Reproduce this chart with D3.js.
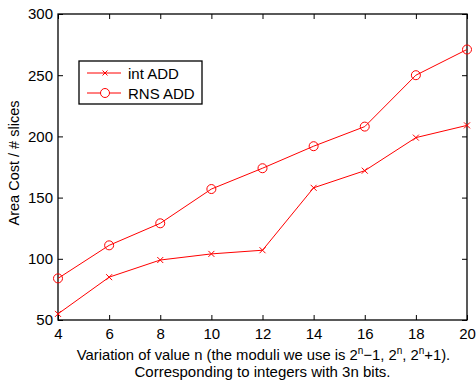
<!DOCTYPE html>
<html>
<head>
<meta charset="utf-8">
<script src="https://cdn.jsdelivr.net/npm/d3@7"></script>
<style>
  body { margin: 0; background: #fff; }
  svg { font-family: "Liberation Sans", Arial, sans-serif; }
</style>
</head>
<body>
<div id="chart"></div>
<script>
// values
const nValues = [4, 6, 8, 10, 12, 14, 16, 18, 20];
const intAdd = [55, 85, 99, 104, 107, 158, 172, 199, 209];
const rnsAdd = [84, 111, 129, 157, 174, 192, 208, 250, 271];
const yTicks = [50, 100, 150, 200, 250, 300];
const seriesNames = ["int ADD", "RNS ADD"];

let width = 476,
    height = 385,
    margin = {top: 14, right: 9, bottom: 65, left: 58},
    tickLen = 5,
    red = "#ff0000";

let svg = d3.select("#chart").append("svg")
    .attr("width", width)
    .attr("height", height);

let x = d3.scaleLinear()
    .domain([4, 20])
    .range([margin.left, width - margin.right]);

let y = d3.scaleLinear()
    .domain([50, 300])
    .range([height - margin.bottom, margin.top]);

// Axes (matlab style: ticks inward on all sides)
// ---------------------------------------------------------

let plotH = y(50) - y(300),
    plotW = x(20) - x(4);

svg.append("g")
    .attr("transform", `translate(0,${y(50)})`)
    .call(d3.axisBottom(x).tickValues(nValues).tickSize(-tickLen).tickPadding(8).tickSizeOuter(0))
    .call(g => g.select(".domain").remove());

svg.append("g")
    .attr("transform", `translate(0,${y(300)})`)
    .call(d3.axisTop(x).tickValues(nValues).tickSize(-tickLen).tickFormat("").tickSizeOuter(0))
    .call(g => g.select(".domain").remove());

svg.append("g")
    .attr("transform", `translate(${x(4)},0)`)
    .call(d3.axisLeft(y).tickValues(yTicks).tickSize(-tickLen).tickPadding(5).tickSizeOuter(0))
    .call(g => g.select(".domain").remove());

svg.append("g")
    .attr("transform", `translate(${x(20)},0)`)
    .call(d3.axisRight(y).tickValues(yTicks).tickSize(-tickLen).tickFormat("").tickSizeOuter(0))
    .call(g => g.select(".domain").remove());

svg.selectAll(".tick line").attr("stroke", "#000").attr("stroke-width", 1);
svg.selectAll(".tick text").attr("font-size", 15).attr("fill", "#000");

svg.append("rect")
    .attr("x", x(4))
    .attr("y", y(300))
    .attr("width", plotW)
    .attr("height", plotH)
    .attr("fill", "none")
    .attr("stroke", "#000")
    .attr("stroke-width", 1.3);

// Lines
// ---------------------------------------------------------

let lineGen = d3.line()
    .x((d, i) => x(nValues[i]))
    .y(d => y(d));

svg.append("path")
    .datum(intAdd)
    .attr("d", lineGen)
    .attr("fill", "none")
    .attr("stroke", red)
    .attr("stroke-width", 1);

svg.append("path")
    .datum(rnsAdd)
    .attr("d", lineGen)
    .attr("fill", "none")
    .attr("stroke", red)
    .attr("stroke-width", 1);

function crossPath(cx, cy, s) {
    return `M${cx - s},${cy - s}L${cx + s},${cy + s}M${cx - s},${cy + s}L${cx + s},${cy - s}`;
}

svg.selectAll(".crossMark")
    .data(intAdd)
    .enter()
    .append("path")
        .attr("class", "crossMark")
        .attr("d", (d, i) => crossPath(x(nValues[i]), y(d), 3))
        .attr("stroke", red)
        .attr("stroke-width", 1);

svg.selectAll(".circleMark")
    .data(rnsAdd)
    .enter()
    .append("circle")
        .attr("class", "circleMark")
        .attr("cx", (d, i) => x(nValues[i]))
        .attr("cy", d => y(d))
        .attr("r", 4.5)
        .attr("fill", "none")
        .attr("stroke", red)
        .attr("stroke-width", 1);

// Legend
// ---------------------------------------------------------

let legend = svg.append("g").attr("transform", "translate(79,61)");

legend.append("rect")
    .attr("width", 123)
    .attr("height", 43)
    .attr("fill", "#fff")
    .attr("stroke", "#000")
    .attr("stroke-width", 1.3);

seriesNames.forEach((name, i) => {
    let ly = 12 + i * 20;
    legend.append("line")
        .attr("x1", 8).attr("x2", 42)
        .attr("y1", ly).attr("y2", ly)
        .attr("stroke", red);
    if (i == 0)
        legend.append("path")
            .attr("d", crossPath(26, ly, 2.5))
            .attr("stroke", red);
    else
        legend.append("circle")
            .attr("cx", 26).attr("cy", ly).attr("r", 4.5)
            .attr("fill", "#fff").attr("stroke", red);
    legend.append("text")
        .attr("x", 49)
        .attr("y", ly)
        .attr("dominant-baseline", "central")
        .attr("font-size", 15)
        .text(name);
});

// Axis titles
// ---------------------------------------------------------

let xTitle = svg.append("text")
    .attr("x", (x(4) + x(20)) / 2 + 1)
    .attr("y", 360)
    .attr("text-anchor", "middle")
    .attr("font-size", 14.8);

xTitle.append("tspan").text("Variation of value n (the moduli we use is 2");
xTitle.append("tspan").attr("dy", -6).attr("font-size", 10).text("n");
xTitle.append("tspan").attr("dy", 6).text("\u22121, 2");
xTitle.append("tspan").attr("dy", -6).attr("font-size", 10).text("n");
xTitle.append("tspan").attr("dy", 6).text(", 2");
xTitle.append("tspan").attr("dy", -6).attr("font-size", 10).text("n");
xTitle.append("tspan").attr("dy", 6).text("+1).");

svg.append("text")
    .attr("x", (x(4) + x(20)) / 2)
    .attr("y", 377)
    .attr("text-anchor", "middle")
    .attr("font-size", 15)
    .text("Corresponding to integers with 3n bits.");

svg.append("text")
    .attr("transform", `translate(19,163) rotate(-90)`)
    .attr("text-anchor", "middle")
    .attr("font-size", 14.5)
    .text("Area Cost / # slices");
</script>
</body>
</html>
